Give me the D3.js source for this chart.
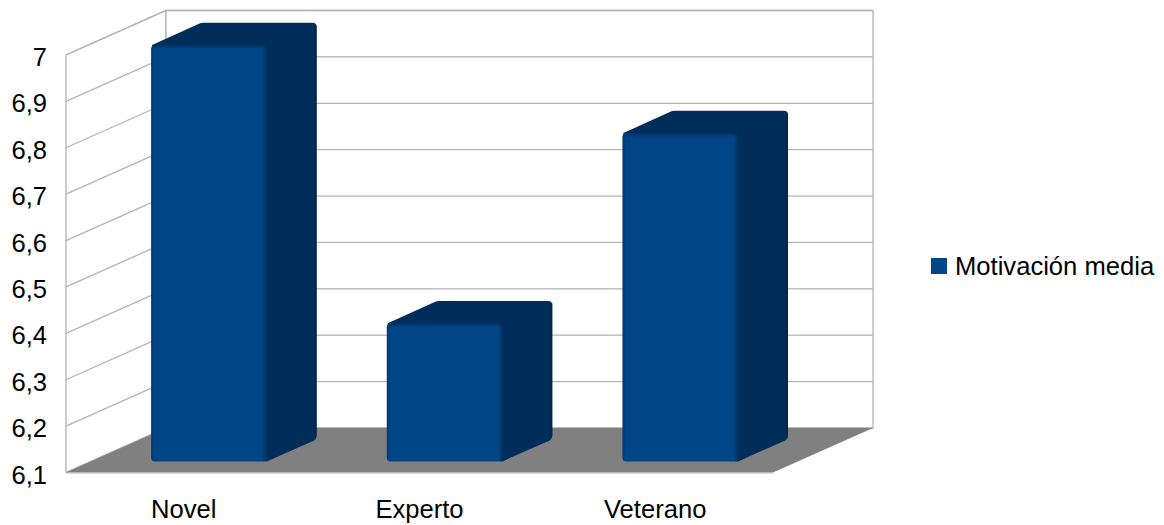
<!DOCTYPE html>
<html>
<head>
<meta charset="utf-8">
<script src="https://cdn.jsdelivr.net/npm/d3@7"></script>
<style>
  html, body { margin: 0; padding: 0; background: #fff; }
  svg { display: block; }
  text { font-family: "Liberation Sans", Arial, sans-serif; fill: #000; }
</style>
</head>
<body>
<div id="chart"></div>
<script>
const categories = ["Novel", "Experto", "Veterano"];
const motivacion = [7, 6.4, 6.81];
const tickValues = [6.1, 6.2, 6.3, 6.4, 6.5, 6.6, 6.7, 6.8, 6.9, 7];
const seriesName = "Motivación media";

const width = 1164, height = 525;
const fontSize = 25.6;
const fmt = d => d3.format(".1~f")(d).replace(".", ",");

const svg = d3.select("#chart").append("svg")
    .attr("width", width)
    .attr("height", height);

// Front plane of the 3D box
const x = d3.scaleBand().domain(categories).range([66, 773]);
const y = d3.scaleLinear().domain([6.1, 7]).range([472.5, 55]);

// Oblique projection: depth 0 = front, 1 = back wall
const depthX = 100, depthY = -44.5;
const px = (xv, d) => xv + d * depthX;
const py = (yv, d) => yv + d * depthY;
const poly = pts => pts.map(p => p.join(",")).join(" ");

const defs = svg.append("defs");
const frontGrad = defs.append("linearGradient").attr("id", "front-grad");
frontGrad.append("stop").attr("offset", "0").attr("stop-color", "#00396f");
frontGrad.append("stop").attr("offset", "0.025").attr("stop-color", "#004586");
frontGrad.append("stop").attr("offset", "0.96").attr("stop-color", "#004586");
frontGrad.append("stop").attr("offset", "1").attr("stop-color", "#003264");
const sideGrad = defs.append("linearGradient").attr("id", "side-grad");
sideGrad.append("stop").attr("offset", "0").attr("stop-color", "#002d59");
sideGrad.append("stop").attr("offset", "0.92").attr("stop-color", "#002d59");
sideGrad.append("stop").attr("offset", "1").attr("stop-color", "#00264c");
const topGrad = defs.append("linearGradient")
    .attr("id", "top-grad").attr("x1", 0).attr("x2", 0).attr("y1", 0).attr("y2", 1);
topGrad.append("stop").attr("offset", "0").attr("stop-color", "#002d59").attr("stop-opacity", 0.8);
topGrad.append("stop").attr("offset", "1").attr("stop-color", "#002d59").attr("stop-opacity", 0);

// Walls
const wallColor = "#b3b3b3";
const yBottom = y(6.1), yTop = y(7);
svg.append("polygon")
    .attr("points", poly([[px(66, 0), py(yBottom, 0)], [px(66, 1), py(yBottom, 1)], [px(66, 1), py(yTop, 1)], [px(66, 0), py(yTop, 0)]]))
    .attr("fill", "#fff").attr("stroke", wallColor).attr("stroke-width", 1.3);
svg.append("rect")
    .attr("x", px(66, 1)).attr("y", py(yTop, 1))
    .attr("width", 707).attr("height", yBottom - yTop)
    .attr("fill", "#fff").attr("stroke", wallColor).attr("stroke-width", 1.3);

// Gridlines: along the side wall, then along the back wall
const grid = svg.append("g");
tickValues.forEach(v => {
    grid.append("polyline")
        .attr("points", poly([[px(66, 0), py(y(v), 0)], [px(66, 1), py(y(v), 1)], [px(773, 1), py(y(v), 1)]]))
        .attr("fill", "none")
        .attr("stroke", wallColor)
        .attr("stroke-width", 1.3);
});

// Floor
svg.append("polygon")
    .attr("points", poly([[px(66, 0), py(yBottom, 0)], [px(773, 0), py(yBottom, 0)], [px(773, 1), py(yBottom, 1)], [px(66, 1), py(yBottom, 1)]]))
    .attr("fill", "#808080");
svg.append("line")
    .attr("x1", 66).attr("x2", 773)
    .attr("y1", yBottom + 0.5).attr("y2", yBottom + 0.5)
    .attr("stroke", wallColor).attr("stroke-width", 1);

// Bars sit between 25% and 75% of the depth
const dFront = 0.25, dBack = 0.75;
const barW = x.bandwidth() * 0.49;
const bars = svg.append("g").selectAll("g")
    .data(categories.map((c, i) => ({ c, v: motivacion[i] })))
    .enter().append("g");

bars.each(function (d) {
    const g = d3.select(this);
    const x0 = px(x(d.c) + (x.bandwidth() - barW) / 2, dFront);
    const x1 = x0 + barW;
    const t = py(y(d.v), dFront) + 1;
    const b = py(yBottom, dFront);
    const dx = (dBack - dFront) * depthX, dy = (dBack - dFront) * depthY;
    const r = 4;

    // top + side silhouette with rounded outer corners
    const back = d3.path();
    back.moveTo(x0 + 1, t);
    back.lineTo(x0 + dx - 1, t + dy + 0.5);
    back.quadraticCurveTo(x0 + dx, t + dy, x0 + dx + 2, t + dy);
    back.lineTo(x1 + dx - r, t + dy);
    back.quadraticCurveTo(x1 + dx, t + dy, x1 + dx, t + dy + r);
    back.lineTo(x1 + dx, b + dy - r);
    back.quadraticCurveTo(x1 + dx, b + dy, x1 + dx - 3, b + dy + 1.5);
    back.lineTo(x1, b);
    back.closePath();
    g.append("path").attr("d", back.toString()).attr("fill", "#002d59");

    // side face shading
    g.append("polygon")
        .attr("points", poly([[x1, t], [x1 + dx, t + dy + 2], [x1 + dx, b + dy - 3], [x1, b]]))
        .attr("fill", "url(#side-grad)");

    // front face
    const frontPath = `M${x0},${t + r}Q${x0},${t} ${x0 + r},${t}L${x1},${t}L${x1},${b}L${x0 + r},${b}Q${x0},${b} ${x0},${b - r}Z`;
    g.append("path").attr("d", frontPath).attr("fill", "url(#front-grad)");

    // soft dark band along the top edge of the front
    g.append("rect")
        .attr("x", x0 + 1).attr("y", t)
        .attr("width", barW - 1).attr("height", 4)
        .attr("fill", "url(#top-grad)");
});

// Value axis labels
tickValues.forEach(v => {
    svg.append("text")
        .attr("x", 47)
        .attr("y", y(v) + 11)
        .attr("text-anchor", "end")
        .attr("font-size", fontSize)
        .text(fmt(v));
});

// Category labels
svg.append("g").selectAll("text")
    .data(categories)
    .enter().append("text")
    .attr("x", d => x(d) + x.bandwidth() / 2)
    .attr("y", 518)
    .attr("text-anchor", "middle")
    .attr("font-size", fontSize)
    .text(d => d);

// Legend
svg.append("rect")
    .attr("x", 931).attr("y", 258)
    .attr("width", 16).attr("height", 16)
    .attr("fill", "#004586");
svg.append("text")
    .attr("x", 955).attr("y", 275)
    .attr("font-size", fontSize)
    .text(seriesName);
</script>
</body>
</html>
